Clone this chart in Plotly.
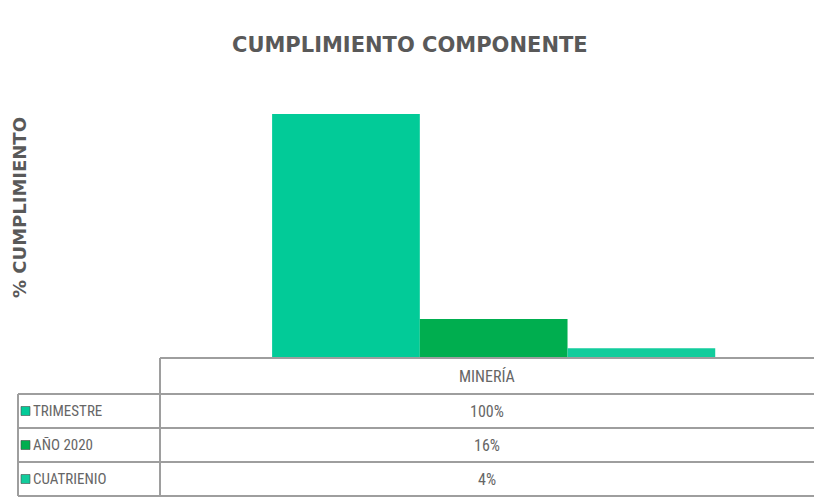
import plotly.graph_objects as go

# Series and values
categoria = ["MINERÍA"]
series = ["TRIMESTRE", "AÑO 2020", "CUATRIENIO"]
valores = [100, 16, 4]
etiquetas = ["100%", "16%", "4%"]
colores = ["#02CB98", "#00AE4F", "#12CC9C"]

W, H = 814, 497
TEXT = "#595959"
LINE = "#9E9E9E"
FONT_T = "Liberation Sans Narrow, Roboto Condensed, DejaVu Sans Condensed, sans-serif"


def px(x):
    return x / W


def py(y):
    return 1 - y / H


fig = go.Figure()
for name, val, col in zip(series, valores, colores):
    fig.add_trace(go.Bar(
        x=[0], y=[val], name=name, marker=dict(color=col, line=dict(width=0)),
        showlegend=False, hoverinfo="skip"))

shapes = []
annotations = []

# Data table grid under the plot
row_edges = [358, 394, 428, 462, 496]
left_col, split_col = 18, 160
# header row (only the category column)
shapes.append(dict(type="line", xref="paper", yref="paper",
                   x0=px(split_col), x1=1, y0=py(row_edges[0]), y1=py(row_edges[0]),
                   line=dict(color=LINE, width=2)))
for y in row_edges[1:]:
    shapes.append(dict(type="line", xref="paper", yref="paper",
                       x0=px(left_col), x1=1, y0=py(y), y1=py(y),
                       line=dict(color=LINE, width=2)))
shapes.append(dict(type="line", xref="paper", yref="paper",
                   x0=px(split_col), x1=px(split_col), y0=py(row_edges[0]), y1=py(row_edges[-1]),
                   line=dict(color=LINE, width=2)))
shapes.append(dict(type="line", xref="paper", yref="paper",
                   x0=px(left_col), x1=px(left_col), y0=py(row_edges[1]), y1=py(row_edges[-1]),
                   line=dict(color=LINE, width=2)))

col_center = 487
annotations.append(dict(text=categoria[0], xref="paper", yref="paper",
                        x=px(col_center), y=py((row_edges[0] + row_edges[1]) / 2),
                        showarrow=False, xanchor="center", yanchor="middle",
                        font=dict(family=FONT_T, size=16, color="#666666")))
for i, (name, lab, col) in enumerate(zip(series, etiquetas, colores)):
    yc = (row_edges[i + 1] + row_edges[i + 2]) / 2
    shapes.append(dict(type="rect", xref="paper", yref="paper",
                       x0=px(21), x1=px(30), y0=py(yc + 4.5), y1=py(yc - 4.5),
                       fillcolor=col, line=dict(color="#4a4a4a", width=0.6)))
    annotations.append(dict(text=name, xref="paper", yref="paper",
                            x=px(31), y=py(yc), showarrow=False,
                            xanchor="left", yanchor="middle",
                            font=dict(family=FONT_T, size=15, color="#666666")))
    annotations.append(dict(text=lab, xref="paper", yref="paper",
                            x=px(col_center), y=py(yc), showarrow=False,
                            xanchor="center", yanchor="middle",
                            font=dict(family=FONT_T, size=16, color="#666666")))

# Titles
annotations.append(dict(text="<b>CUMPLIMIENTO COMPONENTE</b>", xref="paper", yref="paper",
                        x=px(410), y=py(45), showarrow=False,
                        xanchor="center", yanchor="middle",
                        font=dict(family="DejaVu Sans", size=21, color=TEXT)))
annotations.append(dict(text="<b>% CUMPLIMIENTO</b>", xref="paper", yref="paper",
                        x=px(19), y=py(208), showarrow=False, textangle=-90,
                        xanchor="center", yanchor="middle",
                        font=dict(family="DejaVu Sans", size=18, color=TEXT)))

fig.update_layout(
    width=W, height=H, autosize=False,
    margin=dict(l=0, r=0, t=0, b=0),
    paper_bgcolor="white", plot_bgcolor="white",
    barmode="group", bargap=0.336, bargroupgap=0,
    xaxis=dict(domain=[px(160), 1], range=[-0.5, 0.48], showticklabels=False,
               showgrid=False, zeroline=False, showline=False, ticks=""),
    yaxis=dict(domain=[py(358), py(114)], range=[0, 100], showticklabels=False,
               showgrid=False, zeroline=False, showline=False, ticks=""),
    shapes=shapes, annotations=annotations,
)

fig.write_html("out.html")
